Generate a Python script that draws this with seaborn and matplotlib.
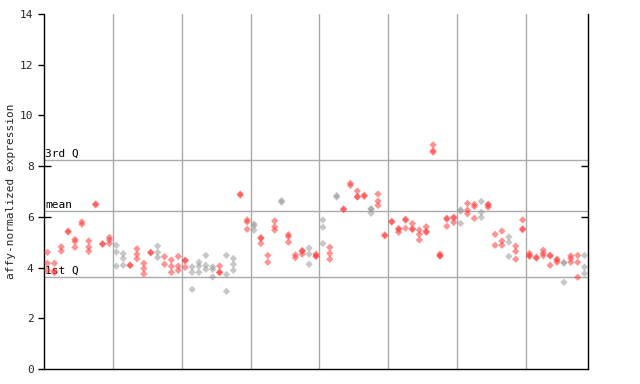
import pandas as pd
import matplotlib
matplotlib.use("Agg")
import matplotlib.pyplot as plt
import seaborn as sns

# expression values per sample column
samples = [
    [4.60, 4.17, 3.88], [4.17, 3.88, 3.80], [4.82, 4.65], [5.44, 5.40],
    [5.11, 5.03, 4.80], [5.80, 5.71], [5.05, 4.81, 4.64], [6.51, 6.47],
    [4.94, 4.92], [5.19, 5.09, 4.95], [4.88, 4.61, 4.06], [4.55, 4.36, 4.09],
    [4.10, 4.08], [4.74, 4.53, 4.35], [4.17, 3.96, 3.75], [4.60, 4.58],
    [4.85, 4.60, 4.40], [4.43, 4.13], [4.30, 4.05, 3.81], [4.44, 4.06, 3.89],
    [4.29, 4.27, 4.01], [4.03, 3.81, 3.14], [4.21, 4.06, 3.81], [4.48, 4.09, 3.93],
    [4.03, 3.93, 3.63], [4.06, 3.82, 3.80], [4.48, 3.73, 3.06], [4.36, 4.13, 3.89],
    [6.90, 6.86], [5.88, 5.80, 5.51], [5.72, 5.65, 5.47], [5.18, 5.15, 4.95],
    [4.48, 4.21], [5.84, 5.61, 5.48], [6.64, 6.58], [5.30, 5.22, 5.00],
    [4.50, 4.39], [4.67, 4.65, 4.53], [4.77, 4.53, 4.13], [4.53, 4.46, 4.44],
    [5.88, 5.59, 4.95], [4.80, 4.56, 4.33], [6.84, 6.78], [6.31, 6.29],
    [7.32, 7.24], [7.02, 6.80, 6.78], [6.85, 6.81], [6.32, 6.30, 6.14],
    [6.90, 6.62, 6.45], [5.29, 5.25], [5.83, 5.79], [5.54, 5.50, 5.39],
    [5.91, 5.87, 5.55], [5.74, 5.53, 5.50], [5.48, 5.31, 5.09], [5.61, 5.43, 5.39],
    [8.84, 8.61, 8.55], [4.48, 4.44, 4.53], [5.95, 5.91, 5.63], [5.99, 5.95, 5.78],
    [6.28, 6.22, 5.74], [6.53, 6.27, 6.12], [6.49, 6.41, 5.94], [6.61, 6.18, 5.98],
    [6.50, 6.46, 6.38], [5.31, 4.88], [5.44, 5.05, 4.88], [5.21, 5.00, 4.44],
    [4.85, 4.64, 4.33], [5.88, 5.53, 5.49], [4.56, 4.48, 4.44], [4.41, 4.37],
    [4.69, 4.56, 4.47], [4.49, 4.45, 4.09], [4.33, 4.29, 4.21], [4.21, 4.17, 3.42],
    [4.46, 4.36, 4.21], [4.48, 4.21, 3.62], [4.48, 4.02, 3.77],
]
gray_cols = [10, 11, 16, 21, 22, 23, 24, 26, 27, 30, 34, 38, 40, 42, 47, 60, 63, 67, 75, 78]
group_edges = [9.5, 19.5, 29.5, 39.5, 49.5, 59.5, 69.5]
ref_lines = {"3rd Q": 8.24, "mean": 6.22, "1st Q": 3.63}
yticks = [0, 2, 4, 6, 8, 10, 12, 14]

rows = []
for i, vals in enumerate(samples):
    for v in vals:
        rows.append({"col": i, "value": v, "kind": "gray" if i in gray_cols else "red"})
df = pd.DataFrame(rows)

sns.set_style("white")
plt.rcParams["font.family"] = ["DejaVu Sans Mono"]

fig = plt.figure(figsize=(6.4, 3.84), dpi=100)
ax = fig.add_axes([44/640, 15/384, 544/640, 355/384])

for x in group_edges:
    ax.axvline(x, color="#aaaaaa", lw=1, zorder=0)
for name, y in ref_lines.items():
    ax.axhline(y, color="#aaaaaa", lw=1, zorder=0)
    ax.text(0.002, y + 0.05, name, transform=ax.get_yaxis_transform(),
            fontsize=8, va="bottom", ha="left", color="black", zorder=1)

sns.scatterplot(data=df, x="col", y="value", hue="kind",
                palette={"red": "#ff3b3b", "gray": "#999999"},
                marker="D", s=14, alpha=0.55, linewidth=0, legend=False, ax=ax, zorder=3)

ax.set_xlim(-0.5, len(samples) - 0.5)
ax.set_ylim(0, 14)
ax.set_xticks([])
ax.set_yticks(yticks)
ax.set_yticklabels([str(t) for t in yticks], fontsize=8)
ax.yaxis.remove_overlapping_locs = False
ax.set_yticks([6, 8], minor=True)
ax.tick_params(axis="y", which="major", direction="out", length=4, width=1, left=True, color="black")
ax.tick_params(axis="y", which="minor", direction="in", length=5, width=1, left=True, right=True, color="black")
ax.set_xlabel("")
ax.set_ylabel("affy-normalized expression", fontsize=8, labelpad=3)

ax.spines["top"].set_visible(False)
for s in ["left", "bottom", "right"]:
    ax.spines[s].set_color("black")
    ax.spines[s].set_linewidth(1)

fig.savefig("out.png", dpi=100)
